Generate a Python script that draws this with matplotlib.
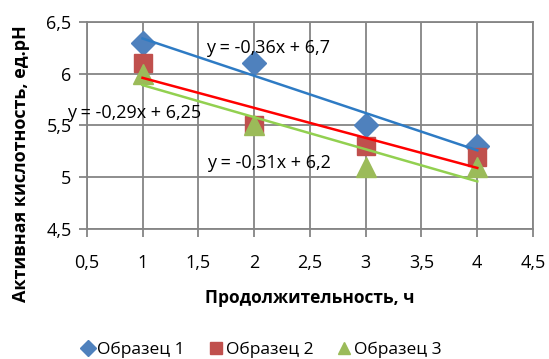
import matplotlib
matplotlib.use("Agg")
import matplotlib.pyplot as plt
import numpy as np
from matplotlib.ticker import FuncFormatter, MultipleLocator
from matplotlib.lines import Line2D

plt.rcParams['font.family'] = ['Open Sans', 'DejaVu Sans']

hours = [1, 2, 3, 4]
sample1 = [6.3, 6.1, 5.5, 5.3]
sample2 = [6.1, 5.5, 5.3, 5.2]
sample3 = [6.0, 5.5, 5.1, 5.1]
names = ["Образец 1", "Образец 2", "Образец 3"]
eq_labels = ["y = -0,36x + 6,7", "y = -0,29x + 6,25", "y = -0,31x + 6,2"]

fig = plt.figure(figsize=(5.49, 3.59), dpi=100)
ax = fig.add_axes([0.158, 0.362, 0.813, 0.577])

marker_colors = ['#4F81BD', '#C0504D', '#9BBB59']
line_colors = ['#2E7BC4', '#FF0000', '#92D050']
markers = ['D', 's', '^']
msizes = [12, 13.5, 14]
series = [sample1, sample2, sample3]
x = np.array(hours)
for ys, mc, lc, m, ms in zip(series, marker_colors, line_colors, markers, msizes):
    k, b = np.polyfit(x, ys, 1)
    ax.plot(x, ys, linestyle='none', marker=m, color=mc, markersize=ms, zorder=3)
    ax.plot([x[0], x[-1]], [k * x[0] + b, k * x[-1] + b], color=lc, lw=1.8, zorder=4)

ax.set_xlim(0.5, 4.5)
ax.set_ylim(4.5, 6.5)
ax.xaxis.set_major_locator(MultipleLocator(0.5))
ax.yaxis.set_major_locator(MultipleLocator(0.5))
fmt = FuncFormatter(lambda v, p: ('%g' % v).replace('.', ','))
ax.xaxis.set_major_formatter(fmt)
ax.yaxis.set_major_formatter(fmt)
ax.grid(True, color='#858585', lw=1.3)
ax.set_axisbelow(True)
for s in ax.spines.values():
    s.set_color('#858585')
    s.set_linewidth(1.3)
ax.tick_params(length=6, width=1.3, color='#858585', labelsize=13, labelcolor='black')
ax.tick_params(axis='x', pad=12)
ax.tick_params(axis='y', pad=5)

ax.text(1.57, 6.25, eq_labels[0], fontsize=13, va='center', zorder=5)
ax.text(0.32, 5.62, eq_labels[1], fontsize=13, va='center', zorder=5)
ax.text(1.58, 5.14, eq_labels[2], fontsize=13, va='center', zorder=5)

fig.text(0.565, 1 - 298 / 359, "Продолжительность, ч", fontsize=12.5,
         fontweight='bold', ha='center', va='center')
fig.text(21 / 549, 1 - 164 / 359, "Активная кислотность, ед.pH", fontsize=13,
         fontweight='bold', ha='center', va='center', rotation=90)

handles = [Line2D([], [], linestyle='none', marker=m, color=c, markersize=8)
           for m, c in zip(markers, marker_colors)]
fig.legend(handles, names, loc='center', bbox_to_anchor=(0.474, 1 - 350 / 359), ncol=3,
           frameon=False, fontsize=12.5, handletextpad=0.05, columnspacing=1.3,
           handlelength=1.0, borderaxespad=0, borderpad=0)

fig.savefig("out.png", dpi=100)
